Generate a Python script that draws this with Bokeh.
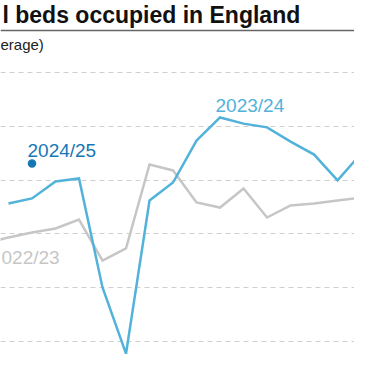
from bokeh.plotting import figure
from bokeh.models import Range1d, Grid, FixedTicker, Label, Span
from bokeh.embed import file_html
from bokeh.resources import INLINE

# ---- data (weekly index, beds occupied, daily average) ----
weeks_2223 = [-1, 0, 1, 2, 3, 4, 5, 6, 7, 8, 9, 10, 11, 12, 13, 14, 15, 16]
beds_2223 = [91640, 91870, 92050, 92200, 92530, 91010, 91460, 94580, 94360,
             93170, 92980, 93690, 92610, 93060, 93130, 93240, 93350, 92310]

weeks_2324 = [0, 1, 2, 3, 4, 5, 6, 7, 8, 9, 10, 11, 12, 13, 14, 15, 16]
beds_2324 = [93130, 93320, 93950, 94060, 90010, 87550, 93240, 93910, 95470,
             96330, 96100, 95960, 95430, 94950, 93990, 94990, 95100]

weeks_2425 = [1]
beds_2425 = [94620]

grid_values = [88000, 90000, 92000, 94000, 96000, 98000]

title_text = "l beds occupied in England"
subtitle_text = "erage)"
label_2223 = "022/23"
label_2324 = "2023/24"
label_2425 = "2024/25"

LIGHT_BLUE = "#52b2da"
DARK_BLUE = "#1677b6"
GREY = "#c6c6c6"
FONT = "Liberation Sans"

W, H = 354, 354

p = figure(width=W, height=H, output_backend="svg", toolbar_location=None,
           x_axis_location=None, y_axis_location=None,
           x_range=Range1d(-0.34, 14.72), y_range=Range1d(87517, 100677),
           min_border=0, outline_line_color=None)
p.xgrid.visible = False
p.ygrid.visible = False

grid = Grid(dimension=1, ticker=FixedTicker(ticks=grid_values),
            grid_line_color="#cfcfcf", grid_line_dash="5 4", grid_line_width=1)
p.add_layout(grid)

p.line(weeks_2223, beds_2223, line_color=GREY, line_width=2.5, line_join="miter")
p.line(weeks_2324, beds_2324, line_color=LIGHT_BLUE, line_width=2.5, line_join="miter")
p.scatter(weeks_2425, beds_2425, size=8.5, fill_color=DARK_BLUE, line_color=None)

# series labels
p.text(x=[weeks_2324[9]], y=[beds_2324[9]], text=[label_2324],
       text_color=LIGHT_BLUE, text_font_size="19px", text_font={"value": FONT},
       text_align="left", text_baseline="alphabetic", x_offset=-4.5, y_offset=-12)
p.text(x=[weeks_2425[0]], y=[beds_2425[0]], text=[label_2425],
       text_color=DARK_BLUE, text_font_size="19px", text_font={"value": FONT},
       text_align="left", text_baseline="alphabetic", x_offset=-4.5, y_offset=-13)
p.text(x=[weeks_2223[1]], y=[beds_2223[1]], text=[label_2223],
       text_color=GREY, text_font_size="19px", text_font={"value": FONT},
       text_align="left", text_baseline="alphabetic", x_offset=-7, y_offset=20)

# title, subtitle, rule
p.add_layout(Label(x=2, y=H - 14, x_units="screen", y_units="screen", text=title_text,
                   text_font=FONT, text_font_size="23px", text_font_style="bold",
                   text_color="#111111", text_baseline="alphabetic"))
p.add_layout(Label(x=0, y=H - 44, x_units="screen", y_units="screen", text=subtitle_text,
                   text_font=FONT, text_font_size="15px",
                   text_color="#222222", text_baseline="alphabetic"))
p.add_layout(Span(location=99561, dimension="width", line_color="#666666", line_width=1.5))

open("out.html", "w").write(file_html(p, INLINE))
